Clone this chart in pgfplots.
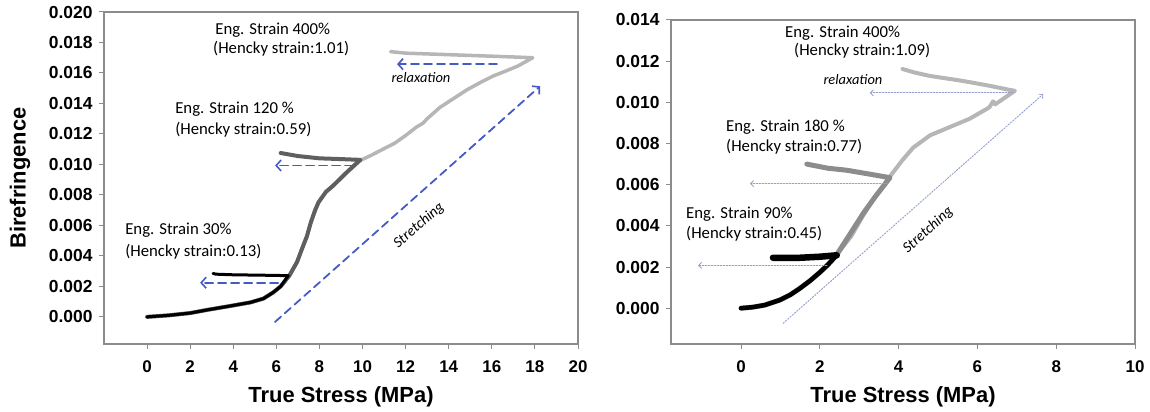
\documentclass[border=0pt]{standalone}
\usepackage{fontspec}
\setmainfont{Liberation Sans}
\newfontfamily\calfont{Carlito}
\usepackage{pgfplots}
\pgfplotsset{compat=1.18}
\usetikzlibrary{arrows.meta}
\definecolor{axgray}{RGB}{140,140,140}
\definecolor{arrblue}{RGB}{68,90,196}
\definecolor{dotblue}{RGB}{150,162,205}
\definecolor{dgray}{RGB}{95,95,95}
\definecolor{mgray}{RGB}{140,140,140}
\definecolor{lgray}{RGB}{182,182,182}
\newcommand\ann{\calfont\fontsize{16.8}{20}\selectfont}
\newcommand\annit{\calfont\itshape\fontsize{14.5}{18}\selectfont}
\newcommand\annst{\calfont\itshape\fontsize{15}{18}\selectfont}
\pgfplotsset{
  myaxis/.style={
    scale only axis,
    anchor=south west,
    axis line style={axgray, line width=1.2bp},
    tick style={axgray, line width=1bp},
    tick align=outside,
    major tick length=5bp,
    xtick pos=left, ytick pos=left,
    xticklabel={\pgfmathprintnumber[assume math mode=true]{\tick}},
    yticklabel={\pgfmathprintnumber[assume math mode=true,fixed,fixed zerofill,precision=3]{\tick}},
    xticklabel style={font=\fontsize{17}{20}\selectfont\bfseries, yshift=-8bp},
    yticklabel style={font=\fontsize{17.5}{20}\selectfont\bfseries, xshift=-3bp},
    scaled y ticks=false,
    label style={font=\fontsize{22}{26}\selectfont\bfseries},
    every axis plot/.append style={line join=round, line cap=round},
  },
  bluearr/.style={arrblue, line width=1.8bp, dash pattern=on 8bp off 5bp,
    -{Straight Barb[length=5bp,width=11bp,line width=1.6bp]}},
  dotarr/.style={dotblue, line width=1bp, dash pattern=on 1.5bp off 1.5bp,
    -{Straight Barb[length=3bp,width=6bp,line width=0.8bp]}},
}
\begin{document}
\begin{tikzpicture}[x=1bp,y=1bp]
\useasboundingbox (0,0) rectangle (1150,411);
% ---------------- left panel ----------------
\begin{axis}[myaxis,
  at={(104bp,67bp)}, width=474bp, height=332bp,
  xmin=-2, xmax=20, ymin=-0.00178, ymax=0.020,
  xtick={0,2,...,20}, ytick={0,0.002,...,0.0201},
  xlabel={True Stress (MPa)}, ylabel={Birefringence},
  xlabel style={at={(axis description cs:0.5,-0.16)}, anchor=center},
  ylabel style={at={(axis description cs:-0.177,0.5)}, anchor=center},
]
\addplot[lgray, line width=3.5bp] coordinates {
(0,0) (1,0.0001) (2,0.00025) (2.8,0.00046) (3.8,0.0007) (4.8,0.00095) (5.4,0.0012)
(5.85,0.0016) (6.2,0.0020) (6.6,0.0027) (6.96,0.0036) (7.2,0.0045) (7.42,0.0053)
(7.6,0.0062) (7.8,0.0070) (7.95,0.0075) (8.3,0.0082) (8.63,0.0086) (9.28,0.0095)
(9.8,0.0102) (10.4,0.0106)
(10.95,0.0110) (11.5,0.0114) (12.0,0.0119) (12.5,0.01245) (12.8,0.0127) (13.0,0.0130)
(13.6,0.01375) (14.2,0.0143) (14.85,0.0149) (15.5,0.0154) (16.06,0.0158)
(16.6,0.0161) (17.2,0.01645) (17.9,0.0170)
(17.0,0.01705) (16.0,0.0171) (15.0,0.01715) (14.0,0.0172) (13.0,0.01725)
(12.0,0.0173) (11.3,0.0174)};
\addplot[dgray, line width=4bp] coordinates {
(0,0) (1,0.0001) (2,0.00025) (2.8,0.00046) (3.8,0.0007) (4.8,0.00095) (5.4,0.0012)
(5.85,0.0016) (6.2,0.0020) (6.6,0.0027) (6.96,0.0036)
(7.2,0.0045) (7.42,0.0053) (7.6,0.0062) (7.8,0.0070) (7.95,0.0075) (8.3,0.0082)
(8.63,0.0086) (9.28,0.0095) (9.9,0.0103)
(9.0,0.01035) (8.0,0.0104) (7.0,0.01055) (6.4,0.0107) (6.2,0.01075)};
\addplot[black, line width=3bp] coordinates {
(0,0) (1,0.0001) (2,0.00025) (2.8,0.00046) (3.8,0.0007) (4.8,0.00095) (5.4,0.0012)
(5.85,0.0016) (6.2,0.0020) (6.55,0.0027)
(6.0,0.00272) (5.0,0.00274) (4.0,0.00276) (3.2,0.0028) (3.06,0.00285)};
\addplot[bluearr] coordinates {(5.94,-0.00033) (18.24,0.01513)};
\addplot[bluearr] coordinates {(16.24,0.01658) (11.6,0.01658)};
\addplot[bluearr] coordinates {(9.56,0.00993) (5.94,0.00993)};
\addplot[bluearr] coordinates {(6.08,0.00224) (2.46,0.00224)};
\node[anchor=west, inner sep=0pt, font=\ann] at (axis cs:3.16,0.01883) {Eng. Strain 400\%};
\node[anchor=west, inner sep=0pt, font=\ann] at (axis cs:3.06,0.01757) {(Hencky strain:1.01)};
\node[anchor=west, inner sep=0pt, font=\ann] at (axis cs:1.30,0.01362) {Eng. Strain 120 \%};
\node[anchor=west, inner sep=0pt, font=\ann] at (axis cs:1.30,0.01230) {(Hencky strain:0.59)};
\node[anchor=west, inner sep=0pt, font=\ann] at (axis cs:-1.02,0.00566) {Eng. Strain 30\%};
\node[anchor=west, inner sep=0pt, font=\ann] at (axis cs:-1.02,0.00428) {(Hencky strain:0.13)};
\node[inner sep=0pt, font=\annit] at (axis cs:12.71,0.01572) {relaxation};
\node[inner sep=0pt, font=\annst, rotate=41] at (axis cs:12.62,0.00599) {Stretching};
\end{axis}
% ---------------- right panel ----------------
\begin{axis}[myaxis,
  at={(671bp,67bp)}, width=464bp, height=324bp,
  xmin=-1.777, xmax=10, ymin=-0.00174, ymax=0.014,
  xtick={0,2,...,10}, ytick={0,0.002,...,0.0141},
  xlabel={True Stress (MPa)},
  xlabel style={at={(axis description cs:0.5,-0.1636)}, anchor=center},
]
\addplot[lgray, line width=4bp] coordinates {
(0,0) (0.3,0.00005) (0.6,0.00015) (0.99,0.0004) (1.25,0.00065) (1.5,0.00097)
(1.75,0.00133) (2.0,0.00174) (2.2,0.0021) (2.43,0.0026) (2.8,0.0035)
(3.1,0.0045) (3.4,0.0054) (3.78,0.0064) (4.1,0.0072) (4.37,0.0078) (4.8,0.0084)
(5.3,0.0088) (5.8,0.0092) (6.3,0.00975) (6.4,0.01005) (6.45,0.0099) (6.95,0.01056)
(6.83,0.0106) (6.32,0.0108) (5.63,0.01104) (4.8,0.01128) (4.4,0.01145) (4.1,0.01162)};
\addplot[mgray, line width=5bp] coordinates {
(0,0) (0.3,0.00005) (0.6,0.00015) (0.99,0.0004) (1.25,0.00065) (1.5,0.00097)
(1.75,0.00133) (2.0,0.00174) (2.2,0.0021) (2.43,0.0026) (2.8,0.0037) (3.1,0.0046)
(3.4,0.0054) (3.78,0.00634)
(3.3,0.0065) (2.69,0.0067) (2.2,0.0068) (1.67,0.0070)};
\addplot[black, line width=4.5bp] coordinates {
(0,0) (0.3,0.00005) (0.6,0.00015) (0.99,0.0004) (1.25,0.00065) (1.5,0.00097)
(1.75,0.00133) (2.0,0.00174) (2.2,0.0021) (2.43,0.00257)};
\addplot[black, line width=6.5bp] coordinates {
(2.43,0.00257) (2.0,0.0025) (1.5,0.00245) (0.81,0.00245)};
\addplot[dotarr] coordinates {(1.07,-0.00073) (7.67,0.0104)};
\addplot[dotarr] coordinates {(6.9,0.01046) (3.27,0.01046)};
\addplot[dotarr] coordinates {(3.7,0.00605) (0.23,0.00605)};
\addplot[dotarr] coordinates {(2.18,0.00208) (-1.09,0.00208)};
\node[anchor=west, inner sep=0pt, font=\ann] at (axis cs:1.117,0.01337) {Eng. Strain 400\%};
\node[anchor=west, inner sep=0pt, font=\ann] at (axis cs:1.345,0.01249) {(Hencky strain:1.09)};
\node[anchor=west, inner sep=0pt, font=\ann] at (axis cs:-0.381,0.00881) {Eng. Strain 180 \%};
\node[anchor=west, inner sep=0pt, font=\ann] at (axis cs:-0.381,0.00785) {(Hencky strain:0.77)};
\node[anchor=west, inner sep=0pt, font=\ann] at (axis cs:-1.396,0.00455) {Eng. Strain 90\%};
\node[anchor=west, inner sep=0pt, font=\ann] at (axis cs:-1.396,0.00363) {(Hencky strain:0.45)};
\node[inner sep=0pt, font=\annit] at (axis cs:2.84,0.01109) {relaxation};
\node[inner sep=0pt, font=\annst, rotate=42] at (axis cs:4.75,0.00378) {Stretching};
\end{axis}
\end{tikzpicture}
\end{document}
